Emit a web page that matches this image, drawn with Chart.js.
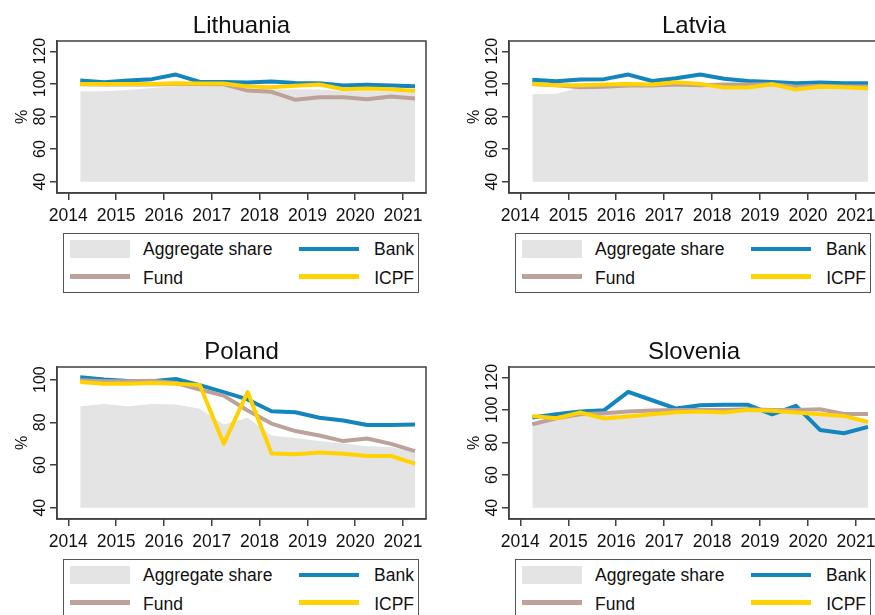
<!DOCTYPE html>
<html>
<head>
<meta charset="utf-8">
<script src="https://cdn.jsdelivr.net/npm/chart.js@4.4.1/dist/chart.umd.min.js"></script>
<style>
  body { margin: 0; overflow: hidden; background: #fff; }
  #page { position: relative; width: 875px; height: 615px; overflow: hidden; background: #fff;
          font-family: "Liberation Sans", Arial, sans-serif; color: #111; }
  canvas { position: absolute; }
  .legend { position: absolute; box-sizing: border-box; width: 356px; height: 60px;
            border: 1.5px solid #555; background: #fff; }
  .legend .sw { position: absolute; }
  .legend .tx { position: absolute; font-size: 17.5px; line-height: 1; white-space: nowrap; }
</style>
</head>
<body>
<div id="page"></div>
<script>
// half-year observation points
var periods = [2014.25, 2014.75, 2015.25, 2015.75, 2016.25, 2016.75, 2017.25, 2017.75,
               2018.25, 2018.75, 2019.25, 2019.75, 2020.25, 2020.75, 2021.25];
var years = [2014, 2015, 2016, 2017, 2018, 2019, 2020, 2021];
var yTicksWide = [40, 60, 80, 100, 120];
var yTicksPoland = [40, 60, 80, 100];

var ltBank = [102.0, 101.0, 102.0, 102.9, 105.7, 101.2, 101.2, 100.8, 101.4, 100.6, 100.4, 99.0, 99.4, 99.0, 98.6];
var ltFund = [99.8, 99.6, 99.6, 99.6, 100.0, 100.0, 99.8, 95.9, 95.1, 90.2, 91.8, 91.8, 90.6, 92.2, 91.0];
var ltIcpf = [100.0, 100.0, 100.0, 100.0, 100.4, 100.2, 100.2, 98.4, 98.0, 98.8, 99.6, 96.7, 97.1, 96.7, 95.7];
var ltAgg  = [95.3, 95.5, 96.3, 97.5, 98.6, 99.4, 99.6, 97.0, 96.5, 96.5, 96.5, 95.5, 95.5, 95.5, 94.5];

var lvBank = [102.5, 101.6, 102.7, 102.9, 105.7, 101.8, 103.5, 105.7, 103.1, 101.8, 101.2, 100.4, 100.8, 100.4, 100.4];
var lvFund = [100.0, 99.2, 98.0, 98.2, 99.0, 99.0, 99.6, 99.2, 99.6, 99.6, 99.8, 98.2, 98.8, 98.4, 98.4];
var lvIcpf = [100.0, 99.2, 99.2, 99.6, 100.0, 99.6, 101.0, 100.0, 97.8, 97.8, 99.8, 96.5, 98.2, 98.0, 97.1];
var lvAgg  = [93.7, 93.9, 97.8, 97.8, 98.4, 98.4, 98.8, 98.8, 98.0, 98.0, 98.8, 96.7, 97.3, 97.3, 96.7];

var plBank = [101.1, 100.0, 99.4, 99.2, 100.3, 97.4, 94.1, 90.7, 85.2, 84.7, 82.1, 80.8, 78.7, 78.7, 79.0];
var plFund = [99.7, 99.2, 99.2, 99.5, 98.4, 95.3, 92.5, 85.5, 79.4, 75.9, 73.8, 71.2, 72.4, 69.9, 66.5];
var plIcpf = [98.9, 98.1, 98.0, 98.4, 98.0, 97.5, 69.9, 94.2, 65.4, 65.0, 65.9, 65.3, 64.2, 64.2, 60.6];
var plAgg  = [87.5, 88.6, 87.5, 88.6, 88.3, 86.3, 79.0, 82.1, 73.8, 72.7, 71.2, 70.1, 68.8, 68.4, 66.0];

var siBank = [95.3, 97.3, 99.0, 99.8, 111.0, 105.9, 100.8, 102.9, 103.1, 103.1, 97.3, 102.5, 87.7, 85.7, 89.6];
var siFund = [91.2, 94.9, 97.3, 98.0, 99.0, 99.6, 100.0, 100.0, 100.0, 100.4, 100.0, 100.0, 100.4, 97.5, 97.5];
var siIcpf = [96.3, 94.9, 98.4, 94.7, 95.9, 97.3, 98.6, 99.0, 98.4, 100.0, 99.4, 98.4, 97.3, 96.3, 92.6];
var siAgg  = [91.2, 95.0, 97.0, 97.0, 97.3, 97.8, 98.4, 98.4, 98.4, 99.2, 98.8, 98.4, 96.3, 95.3, 93.3];

var BLUE = '#1386bd', BROWN = '#bda29b', YELLOW = '#ffd200', GREY = '#e4e4e4', AXIS = '#404040';
var FONT = '"Liberation Sans", Arial, sans-serif';

function pts(vals) {
    return vals.map(function (v, i) { return {x: periods[i], y: v}; });
}

// frame, title, tick labels
var decor = {
    id: 'decor',
    afterDraw: function (chart, args, opts) {
        var ctx = chart.ctx, a = chart.chartArea, sx = chart.scales.x, sy = chart.scales.y;
        ctx.save();
        ctx.strokeStyle = AXIS;
        ctx.lineWidth = 1.5;
        ctx.strokeRect(a.left, a.top, a.right - a.left, a.bottom - a.top);
        ctx.fillStyle = '#111';
        ctx.textAlign = 'center';
        ctx.textBaseline = 'alphabetic';
        ctx.font = '24px ' + FONT;
        ctx.fillText(opts.title, (a.left + a.right) / 2, a.top - 8);
        ctx.font = '17.5px ' + FONT;
        years.forEach(function (yr) {
            ctx.fillText(String(yr), sx.getPixelForValue(yr), a.bottom + 28);
        });
        ctx.font = '16px ' + FONT;
        opts.yTicks.forEach(function (v) {
            ctx.save();
            ctx.translate(a.left - 12, sy.getPixelForValue(v));
            ctx.rotate(-Math.PI / 2);
            ctx.fillText(String(v), 0, 0);
            ctx.restore();
        });
        ctx.save();
        ctx.translate(a.left - 30, (a.top + a.bottom) / 2);
        ctx.rotate(-Math.PI / 2);
        ctx.fillText('%', 0, 0);
        ctx.restore();
        ctx.restore();
    }
};

function panel(cfg) {
    var page = document.getElementById('page');
    var cv = document.createElement('canvas');
    cv.width = 440; cv.height = cfg.canvasH;
    cv.style.left = cfg.left + 'px';
    cv.style.top = cfg.top + 'px';
    page.appendChild(cv);

    var padTop = cfg.chartTop - cfg.top;
    var xH = cfg.top + cfg.canvasH - cfg.chartBottom;
    var yW = cfg.chartLeft - cfg.left;
    var padRight = cfg.left + 440 - cfg.chartRight;

    function line(label, vals, color) {
        return {label: label, data: pts(vals), borderColor: color, borderWidth: 4,
                pointRadius: 0, tension: 0, fill: false, borderJoinStyle: 'round'};
    }

    new Chart(cv, {
        type: 'line',
        data: {
            datasets: [
                line('ICPF', cfg.icpf, YELLOW),
                line('Fund', cfg.fund, BROWN),
                line('Bank', cfg.bank, BLUE),
                {label: 'Aggregate share', data: pts(cfg.agg), borderWidth: 0,
                 borderColor: 'rgba(0,0,0,0)', backgroundColor: GREY,
                 pointRadius: 0, tension: 0, fill: {value: 40}}
            ]
        },
        options: {
            responsive: false,
            animation: false,
            devicePixelRatio: 1,
            layout: {padding: {top: padTop, right: padRight, left: 0, bottom: 0}},
            plugins: {
                legend: {display: false},
                tooltip: {enabled: false},
                decor: {title: cfg.title, yTicks: cfg.yTicks}
            },
            scales: {
                x: {
                    type: 'linear', min: 2013.764, max: 2021.48,
                    afterBuildTicks: function (s) { s.ticks = years.map(function (v) { return {value: v}; }); },
                    afterFit: function (s) { s.height = xH; },
                    ticks: {display: false},
                    grid: {drawOnChartArea: false, drawTicks: true, tickLength: 7, color: AXIS, lineWidth: 1.5},
                    border: {display: true, color: AXIS, width: 1.5}
                },
                y: {
                    type: 'linear', min: cfg.yMin, max: cfg.yMax,
                    afterBuildTicks: function (s) { s.ticks = cfg.yTicks.map(function (v) { return {value: v}; }); },
                    afterFit: function (s) { s.width = yW; },
                    ticks: {display: false},
                    grid: {drawOnChartArea: false, drawTicks: true, tickLength: 7, color: AXIS, lineWidth: 1.5},
                    border: {display: true, color: AXIS, width: 1.5}
                }
            }
        },
        plugins: [decor]
    });

    // legend box
    var lg = document.createElement('div');
    lg.className = 'legend';
    lg.style.left = (cfg.chartLeft + 6) + 'px';
    lg.style.top = (cfg.chartBottom + 40) + 'px';
    lg.innerHTML =
        '<div class="sw" style="left:6px;top:6px;width:60px;height:17.5px;background:' + GREY + '"></div>' +
        '<div class="tx" style="left:79px;top:7px">Aggregate share</div>' +
        '<div class="sw" style="left:235px;top:12.5px;width:60px;height:4.5px;background:' + BLUE + '"></div>' +
        '<div class="tx" style="right:4px;top:7px">Bank</div>' +
        '<div class="sw" style="left:6px;top:40px;width:60px;height:4.5px;background:' + BROWN + '"></div>' +
        '<div class="tx" style="left:79px;top:35.5px">Fund</div>' +
        '<div class="sw" style="left:235px;top:40px;width:60px;height:4.5px;background:' + YELLOW + '"></div>' +
        '<div class="tx" style="right:4px;top:35.5px">ICPF</div>';
    document.getElementById('page').appendChild(lg);
}

panel({title: 'Lithuania', left: 0, top: 0, canvasH: 225, chartLeft: 57, chartRight: 426, chartTop: 41, chartBottom: 193,
       yMin: 33.07, yMax: 126.3, yTicks: yTicksWide, bank: ltBank, fund: ltFund, icpf: ltIcpf, agg: ltAgg});
panel({title: 'Latvia', left: 440, top: 0, canvasH: 225, chartLeft: 509, chartRight: 879, chartTop: 41, chartBottom: 193,
       yMin: 33.07, yMax: 126.3, yTicks: yTicksWide, bank: lvBank, fund: lvFund, icpf: lvIcpf, agg: lvAgg});
panel({title: 'Poland', left: 0, top: 320, canvasH: 235, chartLeft: 57, chartRight: 426, chartTop: 367, chartBottom: 519,
       yMin: 34.7, yMax: 105.9, yTicks: yTicksPoland, bank: plBank, fund: plFund, icpf: plIcpf, agg: plAgg});
panel({title: 'Slovenia', left: 440, top: 320, canvasH: 235, chartLeft: 509, chartRight: 879, chartTop: 367, chartBottom: 519,
       yMin: 33.07, yMax: 126.3, yTicks: yTicksWide, bank: siBank, fund: siFund, icpf: siIcpf, agg: siAgg});
</script>
</body>
</html>
